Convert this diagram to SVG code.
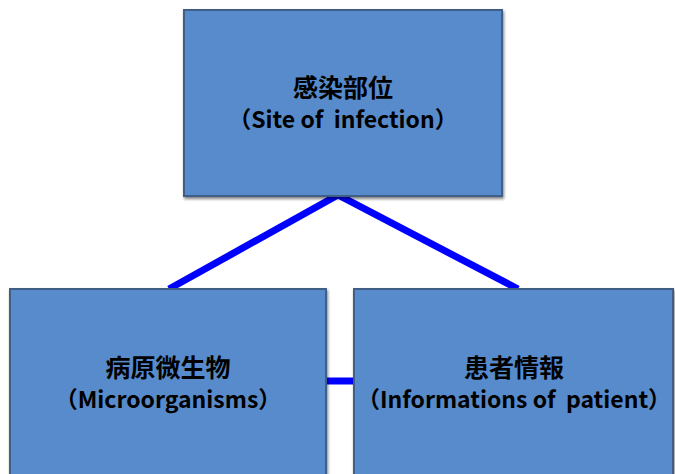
<svg xmlns="http://www.w3.org/2000/svg" width="675" height="474" viewBox="0 0 675 474">
<defs>
<style>
.box{fill:#588bcb;stroke:#3f5f86;stroke-width:2}
.t{font-family:"Noto Sans CJK JP","Noto Sans",sans-serif;font-weight:bold;font-size:23px;fill:#000;text-anchor:middle;white-space:pre}
.j{font-size:25px}
.c{stroke:#0000ff;stroke-width:7;fill:none}
</style>
<filter id="sh" x="-5%" y="-5%" width="110%" height="110%">
<feGaussianBlur in="SourceAlpha" stdDeviation="1.5"/>
<feOffset dx="1" dy="2"/>
<feComponentTransfer><feFuncA type="linear" slope="0.5"/></feComponentTransfer>
<feMerge><feMergeNode/><feMergeNode in="SourceGraphic"/></feMerge>
</filter>
</defs>
<rect width="675" height="474" fill="#fff"/>
<g id="connectors">
<polyline class="c" points="169,289 338,195 518,289"/>
<line class="c" x1="327" y1="381" x2="354" y2="381"/>
</g>
<g id="site">
<rect class="box" x="184" y="10" width="318" height="186" filter="url(#sh)"/>
<text class="t j" x="343" y="97">感染部位</text>
<text class="t" x="343" y="128" xml:space="preserve">（Site of  infection）</text>
</g>
<g id="micro">
<rect class="box" x="10" y="289" width="316" height="195" filter="url(#sh)"/>
<text class="t j" x="168" y="377">病原微生物</text>
<text class="t" x="168" y="408">（Microorganisms）</text>
</g>
<g id="patient">
<rect class="box" x="354" y="289" width="319" height="195" filter="url(#sh)"/>
<text class="t j" x="514" y="377">患者情報</text>
<text class="t" x="514" y="408" xml:space="preserve">（Informations of  patient）</text>
</g>
</svg>
